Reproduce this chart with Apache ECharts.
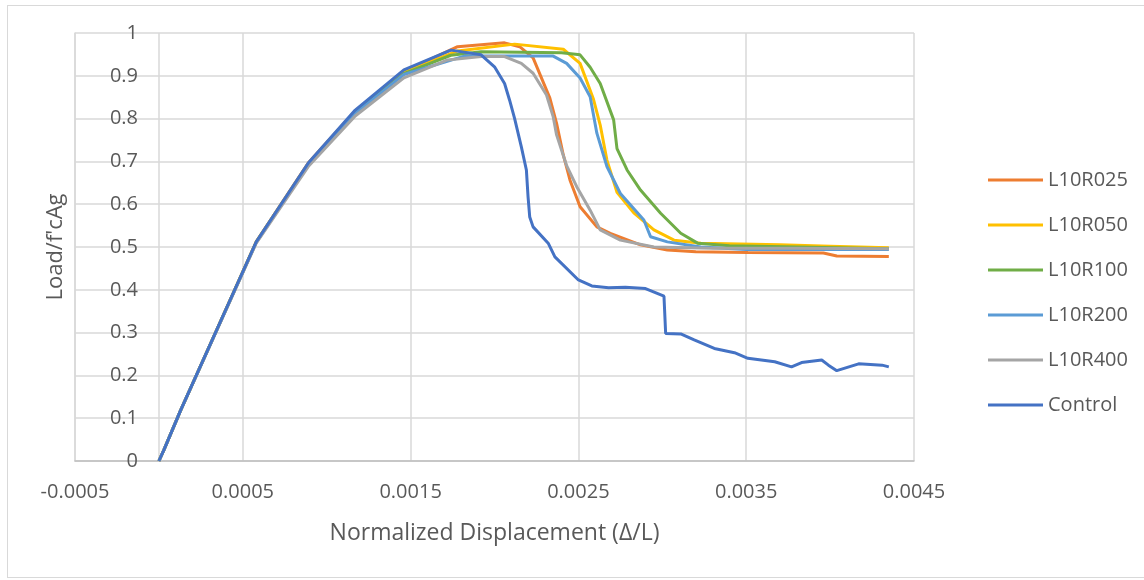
<!DOCTYPE html>
<html>
<head>
<meta charset="utf-8">
<script src="https://cdn.jsdelivr.net/npm/echarts@6/dist/echarts.min.js"></script>
<style>
  html, body { margin: 0; padding: 0; background: #fff; }
  #frame { position: absolute; left: 7px; top: 5px; width: 1145px; height: 573px; border: 1px solid #d9d9d9; box-sizing: border-box; }
  #chart { position: absolute; left: 0; top: 0; width: 1144px; height: 580px; }
</style>
</head>
<body>
<div id="frame"></div>
<div id="chart"></div>
<script>
// Load ratio vs. normalized displacement, [Δ/L, Load/f'cAg]
const seriesNames = ['L10R025', 'L10R050', 'L10R100', 'L10R200', 'L10R400', 'Control'];
const seriesColors = ['#ED7D31', '#FFC000', '#70AD47', '#5B9BD5', '#A5A5A5', '#4472C4'];

const xTicks = [-0.0005, 0.0005, 0.0015, 0.0025, 0.0035, 0.0045];
const yTicks = [0, 0.1, 0.2, 0.3, 0.4, 0.5, 0.6, 0.7, 0.8, 0.9, 1];

const L10R025 = [
  [0, 0], [0.00003, 0.026], [0.00013, 0.119], [0.00058, 0.512], [0.00089, 0.696],
  [0.00117, 0.818], [0.00146, 0.91], [0.00178, 0.968], [0.00206, 0.977], [0.00215, 0.968],
  [0.00223, 0.942], [0.00233, 0.848], [0.00237, 0.789], [0.00241, 0.715], [0.00245, 0.656],
  [0.00251, 0.594], [0.00261, 0.547], [0.00269, 0.532], [0.00287, 0.505], [0.00303, 0.493],
  [0.0032, 0.489], [0.00351, 0.487], [0.00396, 0.486], [0.00404, 0.479], [0.00435, 0.478]
];
const L10R050 = [
  [0, 0], [0.00003, 0.026], [0.00013, 0.119], [0.00058, 0.512], [0.00089, 0.695],
  [0.00117, 0.817], [0.00146, 0.908], [0.00178, 0.958], [0.00212, 0.974], [0.00241, 0.962],
  [0.00251, 0.929], [0.00259, 0.845], [0.00263, 0.785], [0.00267, 0.703], [0.00273, 0.628],
  [0.00283, 0.58], [0.00295, 0.54], [0.00307, 0.516], [0.00323, 0.509], [0.0037, 0.505],
  [0.004, 0.502], [0.00435, 0.498]
];
const L10R100 = [
  [0, 0], [0.00003, 0.026], [0.00013, 0.119], [0.00058, 0.511], [0.00089, 0.693],
  [0.00117, 0.814], [0.00146, 0.905], [0.00174, 0.948], [0.00192, 0.956], [0.0024, 0.954],
  [0.00251, 0.949], [0.00257, 0.92], [0.00263, 0.882], [0.00271, 0.797], [0.00273, 0.73],
  [0.00279, 0.68], [0.00287, 0.633], [0.00299, 0.579], [0.00311, 0.532], [0.00321, 0.509],
  [0.0034, 0.503], [0.0038, 0.5], [0.00435, 0.496]
];
const L10R200 = [
  [0, 0], [0.00003, 0.026], [0.00013, 0.119], [0.00058, 0.511], [0.00089, 0.692],
  [0.00117, 0.812], [0.00146, 0.903], [0.00182, 0.946], [0.00235, 0.946], [0.00243, 0.929],
  [0.00251, 0.895], [0.00257, 0.851], [0.00261, 0.766], [0.00267, 0.688], [0.00275, 0.625],
  [0.00289, 0.563], [0.00293, 0.524], [0.00303, 0.512], [0.00323, 0.5], [0.0035, 0.494],
  [0.00435, 0.494]
];
const L10R400 = [
  [0, 0], [0.00003, 0.026], [0.00013, 0.119], [0.00058, 0.509], [0.00089, 0.688],
  [0.00117, 0.806], [0.00146, 0.895], [0.00172, 0.937], [0.00192, 0.945], [0.00206, 0.945],
  [0.00216, 0.929], [0.00223, 0.906], [0.00231, 0.855], [0.00235, 0.804], [0.00237, 0.762],
  [0.00243, 0.69], [0.00249, 0.641], [0.00257, 0.586], [0.00263, 0.54], [0.00275, 0.516],
  [0.00295, 0.5], [0.0033, 0.497], [0.0038, 0.497], [0.00435, 0.496]
];
const Control = [
  [0, 0], [0.00003, 0.026], [0.00013, 0.119], [0.00058, 0.512], [0.00089, 0.696],
  [0.00117, 0.82], [0.00146, 0.914], [0.00174, 0.96], [0.00192, 0.949], [0.002, 0.921],
  [0.00206, 0.882], [0.00209, 0.843], [0.00212, 0.8], [0.00216, 0.734], [0.00219, 0.68],
  [0.0022, 0.617], [0.00221, 0.57], [0.00223, 0.547], [0.00232, 0.509], [0.00236, 0.477],
  [0.0025, 0.423], [0.00258, 0.409], [0.00268, 0.405], [0.00278, 0.406], [0.0029, 0.403],
  [0.00301, 0.385], [0.00302, 0.298], [0.00311, 0.297], [0.00319, 0.283], [0.00331, 0.263],
  [0.00343, 0.253], [0.00351, 0.24], [0.00367, 0.232], [0.00377, 0.22], [0.00383, 0.23],
  [0.00395, 0.236], [0.00399, 0.224], [0.00404, 0.211], [0.00417, 0.227], [0.00431, 0.224],
  [0.00435, 0.22]
];
const seriesData = [L10R025, L10R050, L10R100, L10R200, L10R400, Control];

// the value axis crosses the displacement axis at zero
const yAxisCrossing = 0;

const FONT = '"Open Sans", sans-serif';
const TEXT = '#595959';
const GRID_LINE = '#d9d9d9';

const chart = echarts.init(document.getElementById('chart'), null, { renderer: 'canvas' });
chart.setOption({
  animation: false,
  backgroundColor: 'transparent',
  textStyle: { fontFamily: FONT, color: TEXT },
  grid: { left: 75, right: 230, top: 33, bottom: 119, containLabel: false, outerBoundsMode: 'none' },
  legend: {
    orient: 'vertical',
    left: 988,
    top: 169,
    padding: 0,
    icon: 'rect',
    itemWidth: 55,
    itemHeight: 3,
    itemGap: 23,
    data: seriesNames,
    textStyle: { fontFamily: FONT, fontSize: 20, color: TEXT, lineHeight: 22 }
  },
  xAxis: {
    type: 'value',
    min: xTicks[0],
    max: xTicks[xTicks.length - 1],
    interval: 0.001,
    name: 'Normalized Displacement (Δ/L)',
    nameLocation: 'middle',
    nameGap: 61,
    nameTextStyle: { fontFamily: FONT, fontSize: 23, color: TEXT },
    axisLine: { show: true, onZero: false, lineStyle: { color: '#bfbfbf', width: 1.5 } },
    axisTick: { show: false },
    axisLabel: {
      margin: 21, fontFamily: FONT, fontSize: 20, color: TEXT,
      customValues: xTicks,
      formatter: v => v.toFixed(4)
    },
    splitLine: { show: true, lineStyle: { color: GRID_LINE, width: 1.5 } }
  },
  yAxis: {
    type: 'value',
    min: yTicks[0],
    max: yTicks[yTicks.length - 1],
    interval: 0.1,
    name: "Load/f'cAg",
    nameLocation: 'middle',
    nameGap: 6,
    nameRotate: 90,
    nameTextStyle: { fontFamily: FONT, fontSize: 22, color: TEXT },
    axisLine: { show: true, onZero: false, lineStyle: { color: GRID_LINE, width: 1.5 } },
    axisTick: { show: false },
    axisLabel: {
      inside: true,
      align: 'right',
      margin: 63,
      fontFamily: FONT, fontSize: 20, color: TEXT,
      formatter: v => String(Math.round(v * 10) / 10)
    },
    splitLine: { show: true, lineStyle: { color: GRID_LINE, width: 1.5 } }
  },
  series: seriesNames.map((name, i) => ({
    name,
    type: 'line',
    data: seriesData[i],
    showSymbol: false,
    symbol: 'none',
    smooth: false,
    color: seriesColors[i],
    lineStyle: { color: seriesColors[i], width: 3 },
    z: 3 + i,
    markLine: i === 0 ? {
      silent: true,
      symbol: 'none',
      label: { show: false },
      lineStyle: { color: GRID_LINE, width: 1.5, type: 'solid' },
      z: 1,
      data: [{ xAxis: yAxisCrossing }]
    } : undefined
  }))
});
</script>
</body>
</html>
